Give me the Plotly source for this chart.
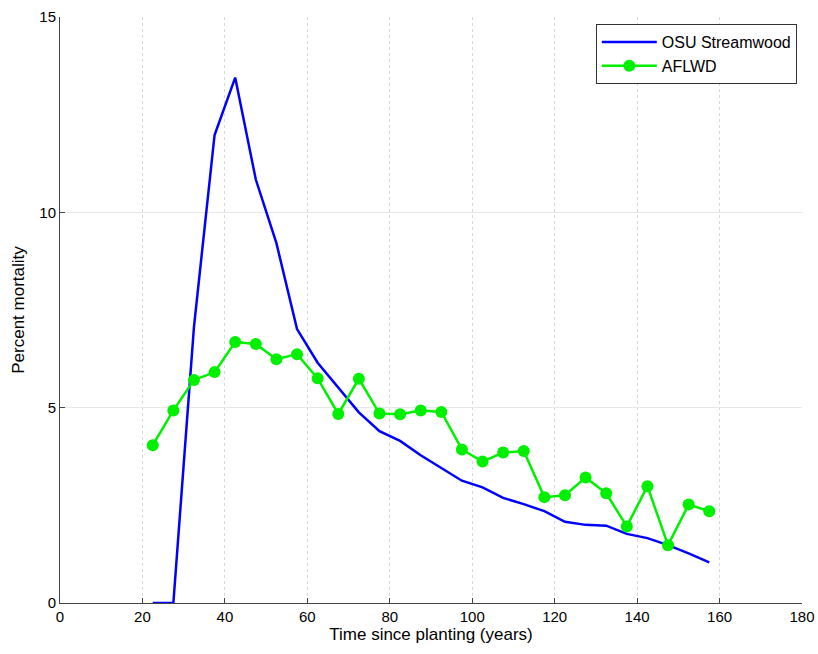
import plotly.graph_objects as go

years = [22.5, 27.5, 32.5, 37.5, 42.5, 47.5, 52.5, 57.5, 62.5, 67.5, 72.5, 77.5, 82.5, 87.5,
         92.5, 97.5, 102.5, 107.5, 112.5, 117.5, 122.5, 127.5, 132.5, 137.5, 142.5, 147.5, 152.5, 157.5]
osu_streamwood = [0.0, 0.0, 7.07, 11.98, 13.45, 10.84, 9.21, 7.01, 6.15, 5.52, 4.88, 4.40, 4.15, 3.78,
                  3.46, 3.13, 2.96, 2.69, 2.53, 2.35, 2.08, 2.00, 1.98, 1.77, 1.66, 1.48, 1.27, 1.04]
aflwd = [4.04, 4.93, 5.71, 5.91, 6.68, 6.63, 6.24, 6.37, 5.75, 4.84, 5.74, 4.85, 4.83, 4.93,
         4.89, 3.93, 3.62, 3.85, 3.89, 2.71, 2.76, 3.21, 2.81, 1.96, 2.99, 1.48, 2.52, 2.35]

x_ticks = [0, 20, 40, 60, 80, 100, 120, 140, 160, 180]
y_ticks = [0, 5, 10, 15]

fig = go.Figure()
fig.add_trace(go.Scatter(x=years, y=osu_streamwood, mode="lines", name="OSU Streamwood",
                         line=dict(color="#0000ff", width=2.5)))
fig.add_trace(go.Scatter(x=years, y=aflwd, mode="lines+markers", name="AFLWD",
                         line=dict(color="#00f000", width=2.5),
                         marker=dict(color="#00f000", size=12)))

font = dict(family="Liberation Sans, Arial, sans-serif", size=14, color="black")
fig.update_layout(
    width=818, height=654,
    margin=dict(l=60, r=16, t=17, b=51, autoexpand=False),
    paper_bgcolor="white", plot_bgcolor="white",
    font=font,
    showlegend=True,
    legend=dict(x=0.993, xanchor="right", y=0.988, yanchor="top",
                bordercolor="#333333", borderwidth=1, bgcolor="white",
                font=dict(family="Liberation Sans, Arial, sans-serif", size=16, color="black"),
                tracegroupgap=0, itemwidth=55),
    xaxis=dict(range=[0, 180], tickvals=x_ticks, ticks="inside", ticklen=5, tickcolor="#444",
               showline=True, linecolor="#444", linewidth=1, zeroline=False, automargin=False,
               showgrid=True, gridcolor="#d8d8d8", griddash="dot", gridwidth=1,
               title=dict(text="Time since planting (years)", standoff=4),
               tickfont=dict(size=15)),
    yaxis=dict(range=[0, 15], tickvals=y_ticks, ticks="inside", ticklen=5, tickcolor="#444",
               showline=True, linecolor="#444", linewidth=1, zeroline=False, automargin=False,
               showgrid=True, gridcolor="#e8e8e8", gridwidth=1,
               title=dict(text="Percent mortality", standoff=10),
               tickfont=dict(size=15)),
)
fig.write_html("out.html")
